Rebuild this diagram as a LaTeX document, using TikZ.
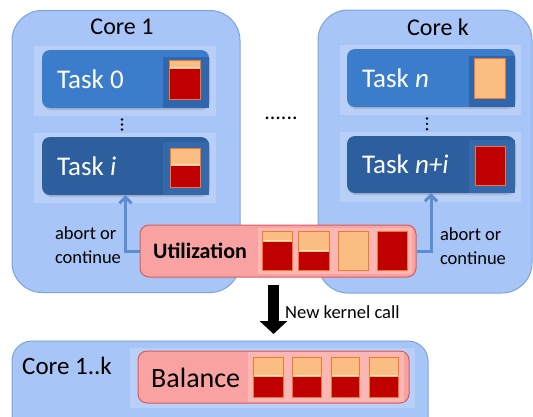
\documentclass[tikz,border=0pt]{standalone}
\usepackage{fontspec}
\setmainfont{Carlito}
\usetikzlibrary{arrows.meta,shadows}
\definecolor{corebg}{HTML}{A7C5F6}
\definecolor{coreline}{HTML}{7EA3DB}
\definecolor{taskA}{HTML}{3B7CCB}
\definecolor{taskB}{HTML}{2D5E9E}
\definecolor{taskAr}{HTML}{2F66AD}
\definecolor{taskBr}{HTML}{3568AA}
\definecolor{pinkbg}{HTML}{F9A2A2}
\definecolor{pinkline}{HTML}{D65C5C}
\definecolor{pinklight}{HTML}{FBB6B6}
\definecolor{peach}{HTML}{FBBE82}
\definecolor{barred}{HTML}{C00000}
\definecolor{orangeb}{HTML}{F07A2A}
\definecolor{arrowblue}{HTML}{5B8DD0}
\newcommand{\utilbar}[5]{%
  \fill[peach] (#1,#2) rectangle (#3,#4);
  \fill[barred] (#1,#5) rectangle (#3,#4);
  \draw[white!55!peach, line width=1.6pt] (#1,#5-1.5) -- (#3,#5-1.5);
  \draw[orangeb, line width=1pt] (#1,#2) rectangle (#3,#4);
}
\newcommand{\fullbar}[5]{%
  \draw[orangeb, line width=1pt, fill=#5] (#1,#2) rectangle (#3,#4);
}
\begin{document}
\begin{tikzpicture}[x=1pt,y=-1pt,
  corebox/.style={draw=coreline, line width=1pt, fill=corebg, rounded corners=30pt},
  taskbox/.style={rounded corners=8pt, minimum width=167pt, minimum height=58pt, inner sep=0pt,
     drop shadow={opacity=0.3, shadow xshift=1pt, shadow yshift=-2pt}},
  pinkbox/.style={draw=pinkline, line width=1pt, fill=pinkbg, rounded corners=9pt, inner sep=0pt},
  tasklabel/.style={text=white, anchor=west, font=\fontsize{27}{30}\selectfont, inner sep=0pt},
  title/.style={font=\fontsize{24}{28}\selectfont, inner sep=0pt},
  small/.style={font=\fontsize{18.5}{24}\selectfont, inner sep=0pt, align=left},
  fb/.style={->, draw=arrowblue, line width=3pt, -{Straight Barb[length=6pt,width=12pt]}},
  glass/.style={fill=white, opacity=0.2}
]
\clip (0,0) rectangle (533,416);
% core boxes
\node[corebox, minimum width=228pt, minimum height=282pt] (core1) at (126,151.5) {};
\node[corebox, minimum width=214pt, minimum height=283pt] (corek) at (425,151.5) {};
\node[title] (t1) at (122,27) {Core 1};
\node[title] (tk) at (438,27) {Core k};
% glass frames
\fill[glass] (34,46) rectangle (216,116);
\fill[glass] (34,133) rectangle (216,203);
\fill[glass] (340,45) rectangle (521,115);
\fill[glass] (340,132) rectangle (521,202);
% tasks
\node[taskbox, fill=taskA] (task0) at (125.5,79) {};
\node[taskbox, fill=taskB] (taski) at (125.5,166) {};
\node[taskbox, fill=taskA, minimum width=168pt] (taskn) at (431,78) {};
\node[taskbox, fill=taskB, minimum width=168pt, minimum height=57pt] (taskni) at (431,164.5) {};
\fill[taskAr] (163,57) rectangle (209,108);
\fill[taskBr] (163,142) rectangle (209,195);
\fill[taskAr] (469,56) rectangle (515,107);
\fill[taskBr] (469,140) rectangle (515,193);
\node[tasklabel] (l0) at (57,79) {Task 0};
\node[tasklabel] (li) at (57,166) {Task \textit{i}};
\node[tasklabel] (ln) at (362,78) {Task \textit{n}};
\node[tasklabel] (lni) at (362,164.5) {Task \textit{n+i}};
\utilbar{169}{60}{200}{99}{69}
\utilbar{170}{148}{200}{187}{166}
\fullbar{474}{58}{505}{98}{peach}
\fullbar{475}{146}{505}{185}{barred}
% vertical dots
\foreach \yy in {119.5,124.5,129.5} \fill (122,\yy) circle (1.3);
\foreach \yy in {118.5,123.8,129.2} \fill (427,\yy) circle (1.3);
\node[font=\fontsize{22}{24}\selectfont, inner sep=0pt] (hdots) at (281,118) {......};
% utilization
\node[pinkbox, minimum width=276pt, minimum height=52pt] (util) at (278,251) {};
\fill[pinklight] (258,228) rectangle (412,274);
\node[anchor=west, inner sep=0pt, font=\bfseries\fontsize{22}{24}\selectfont] (utext) at (153,251) {Utilization};
\utilbar{262}{231}{292}{270}{242}
\utilbar{298}{231}{329}{270}{252}
\fullbar{338}{231}{368}{270}{peach}
\fullbar{377}{231}{407}{270}{barred}
% feedback arrows
\draw[fb] (util.west) -| (taski.south);
\draw[fb] (util.east) -| (taskni.south);
\node[small] (ab1) at (88,245) {abort or\\continue};
\node[small] (ab2) at (473,246) {abort or\\continue};
% kernel call arrow
\coordinate (ka) at (273.5,285);
\coordinate (kb) at (273.5,334);
\draw[line width=11pt, -{Triangle[length=13pt,width=27pt]}] (ka) -- (kb);
\node[small, anchor=west] (kcall) at (285,312) {New kernel call};
% bottom
\node[corebox, rounded corners=20pt, minimum width=416pt, minimum height=99pt] (coreall) at (220,390.5) {};
\node[anchor=west, inner sep=0pt, font=\fontsize{25}{28}\selectfont] (tall) at (22,366) {Core 1..k};
\fill[glass] (130,348) rectangle (415,408);
\node[pinkbox, minimum width=271pt, minimum height=52pt] (bal) at (273.5,377) {};
\fill[pinklight] (248,352) rectangle (404,402);
\node[anchor=west, inner sep=0pt, font=\fontsize{28}{30}\selectfont] (btext) at (151,378) {Balance};
\utilbar{253}{357}{283}{397}{377}
\utilbar{292}{357}{321}{397}{377}
\utilbar{331}{357}{359}{397}{377}
\utilbar{369}{357}{398}{397}{377}
\end{tikzpicture}
\end{document}
